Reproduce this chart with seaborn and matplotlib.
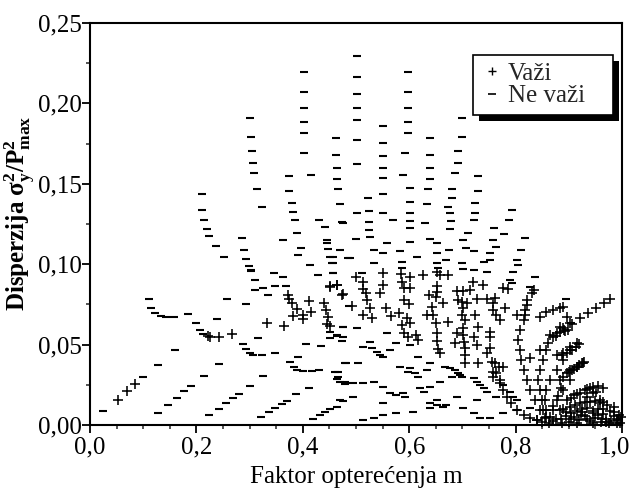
import matplotlib
matplotlib.use("Agg")
import matplotlib.pyplot as plt
import seaborn as sns
import pandas as pd
from matplotlib.ticker import MultipleLocator, FuncFormatter
from matplotlib.lines import Line2D
from matplotlib.patches import Rectangle
from matplotlib.transforms import IdentityTransform, ScaledTranslation

# ---------------- data ----------------
# "Ne važi" (dash markers) - upper columns
ne_upper = [
    (0.210, 0.1437),
    (0.301, 0.1911), (0.303, 0.1793), (0.304, 0.1704), (0.307, 0.1631), (0.308, 0.1569), (0.314, 0.1468), (0.324, 0.1358),
    (0.374, 0.1551), (0.374, 0.1455),
    (0.403, 0.2197), (0.403, 0.2069), (0.403, 0.1969), (0.403, 0.1886), (0.403, 0.1814), (0.403, 0.1694), (0.416, 0.1555),
    (0.462, 0.1783), (0.463, 0.1679), (0.464, 0.1600), (0.465, 0.1532), (0.467, 0.1468),
    (0.502, 0.2297), (0.502, 0.2162), (0.502, 0.2061), (0.502, 0.1973), (0.502, 0.1897), (0.502, 0.1770), (0.502, 0.1623),
    (0.523, 0.1410),
    (0.551, 0.1859), (0.551, 0.1756), (0.551, 0.1673), (0.551, 0.1600), (0.551, 0.1538), (0.551, 0.1439),
    (0.598, 0.2197), (0.598, 0.2069), (0.598, 0.1969), (0.598, 0.1886), (0.598, 0.1814), (0.592, 0.1694), (0.588, 0.1555), (0.601, 0.1476),
    (0.639, 0.1783), (0.639, 0.1679), (0.639, 0.1600), (0.639, 0.1532), (0.636, 0.1468),
    (0.699, 0.1911), (0.699, 0.1793), (0.691, 0.1704), (0.691, 0.1631), (0.687, 0.1569), (0.681, 0.1468), (0.681, 0.1410),
    (0.729, 0.1551), (0.729, 0.1455),
]

# "Ne važi" - left half
ne_left = [
    (0.210, 0.1337), (0.215, 0.1275), (0.219, 0.1219), (0.224, 0.1175), (0.236, 0.1111), (0.251, 0.1047),
    (0.285, 0.1165), (0.289, 0.1088), (0.293, 0.1032), (0.298, 0.0989), (0.302, 0.0964), (0.302, 0.0956),
    (0.311, 0.0902), (0.311, 0.0837), (0.326, 0.0852), (0.334, 0.0811), (0.345, 0.0947), (0.363, 0.1150),
    (0.363, 0.0920), (0.379, 0.1383), (0.381, 0.1323), (0.385, 0.1275), (0.390, 0.1192), (0.397, 0.1103),
    (0.391, 0.1055), (0.414, 0.0997), (0.429, 0.0935), (0.430, 0.1275), (0.442, 0.1229), (0.445, 0.1150),
    (0.445, 0.1130), (0.447, 0.1092), (0.452, 0.1047), (0.454, 0.1010), (0.457, 0.0943), (0.470, 0.1374),
    (0.474, 0.1260), (0.485, 0.1039), (0.487, 0.0740), (0.348, 0.0864), (0.368, 0.0864),
    (0.110, 0.0781), (0.115, 0.0730), (0.123, 0.0699), (0.133, 0.0678), (0.143, 0.0674), (0.157, 0.0674),
    (0.185, 0.0690), (0.199, 0.0636), (0.207, 0.0591), (0.213, 0.0566), (0.238, 0.0657), (0.257, 0.0781),
    (0.293, 0.0755), (0.288, 0.0504), (0.293, 0.0471), (0.300, 0.0446), (0.307, 0.0437), (0.323, 0.0435),
    (0.348, 0.0450), (0.316, 0.0539), (0.406, 0.0504), (0.435, 0.0491), (0.451, 0.0543), (0.464, 0.0556),
    (0.473, 0.0524), (0.476, 0.0607), (0.159, 0.0466), (0.127, 0.0375), (0.099, 0.0301), (0.242, 0.0379),
    (0.214, 0.0307), (0.301, 0.0245), (0.325, 0.0303), (0.376, 0.0390), (0.383, 0.0363), (0.390, 0.0342),
    (0.401, 0.0338), (0.417, 0.0338), (0.430, 0.0344), (0.391, 0.0425), (0.411, 0.0232), (0.467, 0.0330),
    (0.465, 0.0286), (0.470, 0.0265), (0.479, 0.0253), (0.481, 0.0388),
    (0.024, 0.0087), (0.128, 0.0077), (0.147, 0.0126), (0.163, 0.0168), (0.177, 0.0211), (0.190, 0.0245),
    (0.224, 0.0060), (0.242, 0.0102), (0.256, 0.0135), (0.269, 0.0168), (0.280, 0.0195),
    (0.322, 0.0050), (0.336, 0.0081), (0.348, 0.0106), (0.360, 0.0131), (0.371, 0.0151), (0.388, 0.0191),
    (0.419, 0.0037), (0.432, 0.0062), (0.442, 0.0083), (0.452, 0.0102), (0.464, 0.0114), (0.476, 0.0147),
]

# "Ne važi" - right half
ne_right = [
    (0.502, 0.1320), (0.525, 0.1331), (0.550, 0.1316), (0.602, 0.1389), (0.602, 0.1320), (0.633, 0.1374),
    (0.672, 0.1358), (0.677, 0.1320), (0.724, 0.1383), (0.724, 0.1320), (0.793, 0.1337),
    (0.475, 0.1258), (0.525, 0.1265), (0.570, 0.1275), (0.602, 0.1271), (0.630, 0.1258), (0.678, 0.1271),
    (0.721, 0.1275), (0.788, 0.1275), (0.525, 0.1213), (0.602, 0.1223), (0.677, 0.1217), (0.711, 0.1192),
    (0.759, 0.1227), (0.778, 0.1186), (0.500, 0.1155), (0.526, 0.1167), (0.558, 0.1134), (0.602, 0.1140),
    (0.639, 0.1155), (0.652, 0.1130), (0.702, 0.1150), (0.758, 0.1150), (0.818, 0.1161),
    (0.470, 0.1088), (0.533, 0.1088), (0.550, 0.1068), (0.583, 0.1082), (0.614, 0.1047), (0.653, 0.1068),
    (0.675, 0.1088), (0.707, 0.1103), (0.721, 0.1082), (0.763, 0.1109), (0.752, 0.1068), (0.811, 0.1088),
    (0.456, 0.1043), (0.457, 0.1005), (0.489, 0.1036), (0.533, 0.1005), (0.586, 0.1016), (0.652, 0.1010),
    (0.670, 0.1026), (0.699, 0.1005), (0.740, 0.1016), (0.752, 0.1026), (0.802, 0.1026), (0.805, 0.0995),
    (0.457, 0.0947), (0.511, 0.0947), (0.586, 0.0974), (0.655, 0.0974), (0.702, 0.0968), (0.721, 0.0964),
    (0.746, 0.0954), (0.796, 0.0954), (0.837, 0.0922), (0.790, 0.0902), (0.793, 0.0881), (0.827, 0.0860),
    (0.895, 0.0781), (0.905, 0.0636),
    (0.476, 0.0611), (0.501, 0.0601), (0.451, 0.0580), (0.464, 0.0560), (0.476, 0.0549), (0.526, 0.0518),
    (0.514, 0.0487), (0.530, 0.0477), (0.539, 0.0456), (0.545, 0.0435), (0.551, 0.0425), (0.558, 0.0570),
    (0.564, 0.0466), (0.576, 0.0508), (0.602, 0.0498), (0.479, 0.0388), (0.504, 0.0383), (0.617, 0.0425),
    (0.583, 0.0363), (0.602, 0.0352), (0.611, 0.0321), (0.617, 0.0301), (0.639, 0.0383), (0.633, 0.0342),
    (0.461, 0.0332), (0.467, 0.0301), (0.479, 0.0269), (0.495, 0.0259), (0.514, 0.0259),
    (0.533, 0.0269), (0.551, 0.0238), (0.564, 0.0197), (0.576, 0.0187), (0.592, 0.0176),
    (0.598, 0.0332), (0.620, 0.0228), (0.639, 0.0238), (0.658, 0.0269), (0.680, 0.0301), (0.696, 0.0311),
    (0.667, 0.0363), (0.677, 0.0352), (0.686, 0.0342), (0.692, 0.0321), (0.699, 0.0301), (0.721, 0.0290),
    (0.727, 0.0269), (0.733, 0.0249), (0.740, 0.0228), (0.746, 0.0207),
    (0.777, 0.0249), (0.790, 0.0207), (0.796, 0.0176), (0.802, 0.0155),
    (0.470, 0.0155), (0.495, 0.0176), (0.551, 0.0135), (0.589, 0.0197), (0.627, 0.0207), (0.652, 0.0155),
    (0.689, 0.0176), (0.727, 0.0155), (0.764, 0.0176), (0.639, 0.0135), (0.652, 0.0124), (0.664, 0.0114),
    (0.514, 0.0031), (0.533, 0.0041), (0.551, 0.0062), (0.576, 0.0073), (0.608, 0.0083), (0.639, 0.0104),
    (0.670, 0.0124), (0.702, 0.0104), (0.721, 0.0073), (0.733, 0.0041), (0.752, 0.0041), (0.777, 0.0073),
    (0.802, 0.0093), (0.827, 0.0104),
]

# "Važi" (plus markers) - left half
vazi_left = [
    (0.052, 0.0153), (0.070, 0.0209), (0.085, 0.0257),
    (0.221, 0.0553), (0.226, 0.0549), (0.242, 0.0549), (0.266, 0.0564),
    (0.332, 0.0632), (0.365, 0.0616), (0.373, 0.0808), (0.374, 0.0784), (0.380, 0.0757), (0.390, 0.0719),
    (0.381, 0.0680), (0.401, 0.0686), (0.401, 0.0661), (0.412, 0.0769), (0.415, 0.0703), (0.440, 0.0759),
    (0.444, 0.0715), (0.447, 0.0670), (0.445, 0.0628), (0.451, 0.0616), (0.451, 0.0856), (0.465, 0.0869),
    (0.473, 0.0808),
]

# "Važi" - middle fan
vazi_mid = [
    (0.451, 0.0864), (0.465, 0.0871), (0.475, 0.0813), (0.500, 0.0918), (0.514, 0.0891), (0.514, 0.0844),
    (0.519, 0.0819), (0.521, 0.0777), (0.526, 0.0726), (0.514, 0.0684), (0.531, 0.0663), (0.492, 0.0740),
    (0.550, 0.0943), (0.551, 0.0871), (0.545, 0.0823), (0.556, 0.0726), (0.565, 0.0678),
    (0.584, 0.0939), (0.586, 0.0891), (0.602, 0.0918), (0.590, 0.0850), (0.602, 0.0850), (0.590, 0.0777),
    (0.600, 0.0752), (0.581, 0.0694), (0.595, 0.0663), (0.586, 0.0622), (0.590, 0.0574), (0.602, 0.0632),
    (0.597, 0.0545), (0.613, 0.0560), (0.617, 0.0529),
    (0.625, 0.0933), (0.652, 0.0954), (0.653, 0.0864), (0.653, 0.0829), (0.651, 0.0798), (0.638, 0.0808),
    (0.642, 0.0736), (0.645, 0.0684), (0.650, 0.0636), (0.652, 0.0570), (0.653, 0.0524), (0.655, 0.0471),
    (0.658, 0.0450), (0.664, 0.0757), (0.672, 0.0643), (0.658, 0.0933), (0.673, 0.0933), (0.633, 0.0684),
    (0.689, 0.0835), (0.702, 0.0835), (0.715, 0.0840), (0.719, 0.0891), (0.738, 0.0871), (0.692, 0.0777),
    (0.699, 0.0767), (0.708, 0.0757), (0.702, 0.0726), (0.699, 0.0684), (0.705, 0.0653), (0.702, 0.0601),
    (0.702, 0.0560), (0.703, 0.0518), (0.704, 0.0477), (0.705, 0.0435), (0.705, 0.0388), (0.689, 0.0570),
    (0.686, 0.0512), (0.727, 0.0781), (0.724, 0.0684), (0.730, 0.0612), (0.721, 0.0549), (0.727, 0.0498),
    (0.746, 0.0781), (0.761, 0.0788), (0.777, 0.0850), (0.786, 0.0844), (0.780, 0.0726), (0.764, 0.0684),
    (0.771, 0.0653), (0.758, 0.0757), (0.757, 0.0715), (0.752, 0.0580), (0.752, 0.0549), (0.751, 0.0477),
    (0.746, 0.0446), (0.730, 0.0388), (0.755, 0.0394), (0.757, 0.0332), (0.758, 0.0301), (0.771, 0.0280),
    (0.768, 0.0363), (0.777, 0.0363),
]

# "Važi" - right fan converging to the bottom right
vazi_right = [
    (0.761, 0.0383), (0.764, 0.0321), (0.771, 0.0259), (0.777, 0.0218), (0.783, 0.0176), (0.792, 0.0135),
    (0.802, 0.0093), (0.815, 0.0062), (0.827, 0.0041), (0.840, 0.0031), (0.849, 0.0021),
    (0.834, 0.0840), (0.830, 0.0819), (0.821, 0.0777), (0.818, 0.0715), (0.815, 0.0653), (0.808, 0.0591),
    (0.805, 0.0529), (0.808, 0.0466), (0.811, 0.0404), (0.815, 0.0342), (0.821, 0.0280), (0.827, 0.0218),
    (0.837, 0.0155), (0.846, 0.0093),
    (0.896, 0.0674), (0.884, 0.0612), (0.871, 0.0549), (0.858, 0.0466), (0.852, 0.0404), (0.846, 0.0342),
    (0.843, 0.0280), (0.846, 0.0218), (0.849, 0.0155), (0.852, 0.0093), (0.858, 0.0052),
    (0.902, 0.0466), (0.890, 0.0404), (0.877, 0.0342), (0.865, 0.0280), (0.858, 0.0218), (0.855, 0.0155),
    (0.858, 0.0093),
    (0.902, 0.0280), (0.890, 0.0218), (0.877, 0.0155), (0.871, 0.0093), (0.865, 0.0052),
    (0.883, 0.0580), (0.893, 0.0586), (0.899, 0.0590),
    (0.887, 0.0435), (0.896, 0.0446), (0.906, 0.0466), (0.914, 0.0487), (0.920, 0.0504),
    (0.883, 0.0280), (0.896, 0.0321), (0.906, 0.0342), (0.915, 0.0363), (0.924, 0.0383), (0.928, 0.0394),
    (0.896, 0.0155), (0.909, 0.0187), (0.921, 0.0197), (0.930, 0.0218), (0.940, 0.0228), (0.946, 0.0238),
    (0.952, 0.0207),
    (0.883, 0.0093), (0.902, 0.0114), (0.921, 0.0135), (0.940, 0.0145), (0.959, 0.0155), (0.971, 0.0124),
    (0.846, 0.0674), (0.858, 0.0705), (0.871, 0.0715), (0.884, 0.0726), (0.890, 0.0736),
    (0.902, 0.0632), (0.890, 0.0601), (0.877, 0.0570), (0.865, 0.0560),
    (0.915, 0.0508), (0.902, 0.0487), (0.890, 0.0446), (0.877, 0.0435),
    (0.927, 0.0383), (0.915, 0.0363), (0.902, 0.0342),
    (0.946, 0.0197), (0.934, 0.0176), (0.959, 0.0135),
    (0.802, 0.0684), (0.818, 0.0684), (0.822, 0.0746),
    (0.827, 0.0417), (0.846, 0.0466), (0.861, 0.0510), (0.876, 0.0553), (0.891, 0.0591), (0.906, 0.0628),
    (0.921, 0.0665), (0.936, 0.0697), (0.951, 0.0728), (0.966, 0.0759), (0.977, 0.0784),
    (0.840, 0.0030), (0.855, 0.0045), (0.870, 0.0025), (0.885, 0.0040), (0.900, 0.0020), (0.910, 0.0050),
    (0.920, 0.0030), (0.930, 0.0055), (0.940, 0.0025), (0.950, 0.0045), (0.960, 0.0020), (0.970, 0.0040),
    (0.980, 0.0025), (0.990, 0.0035), (0.997, 0.0015), (0.925, 0.0080), (0.945, 0.0075), (0.965, 0.0070),
]

# "Važi" - dense strip along the bottom right
vazi_bottom = [
    (0.888, 0.0010), (0.895, 0.0055), (0.905, 0.0035), (0.915, 0.0012), (0.922, 0.0060), (0.935, 0.0040),
    (0.945, 0.0012), (0.955, 0.0062), (0.962, 0.0035), (0.975, 0.0010), (0.985, 0.0055), (0.993, 0.0030),
    (0.999, 0.0050), (0.978, 0.0090), (0.955, 0.0100), (0.935, 0.0105), (0.915, 0.0090), (0.895, 0.0080),
    (0.875, 0.0040), (0.862, 0.0015),
    (0.890, 0.0100), (0.912, 0.0125), (0.930, 0.0140), (0.950, 0.0150), (0.965, 0.0140), (0.985, 0.0110),
    (0.905, 0.0170), (0.915, 0.0190), (0.935, 0.0225), (0.955, 0.0245), (0.965, 0.0230),
    (0.890, 0.0300), (0.900, 0.0330), (0.910, 0.0350), (0.920, 0.0375),
    (0.870, 0.0120), (0.880, 0.0180), (0.885, 0.0230),
    (0.905, 0.0075), (0.925, 0.0100), (0.945, 0.0090), (0.965, 0.0100), (0.985, 0.0080), (0.995, 0.0065),
    (0.990, 0.0015), (0.970, 0.0020),
]

x_ticks_major = [0.0, 0.2, 0.4, 0.6, 0.8, 1.0]
y_ticks_major = [0.00, 0.05, 0.10, 0.15, 0.20, 0.25]
legend_labels = ["Važi", "Ne važi"]

# ---------------- figure ----------------
sns.set_theme(style="white")
plt.rcParams["font.family"] = ["Liberation Serif", "DejaVu Serif"]
plt.rcParams["mathtext.fontset"] = "custom"
plt.rcParams["mathtext.rm"] = "Liberation Serif"
plt.rcParams["mathtext.it"] = "Liberation Serif:italic"
plt.rcParams["mathtext.bf"] = "Liberation Serif:bold"

ne_pts = ne_upper + ne_left + ne_right
vazi_pts = vazi_left + vazi_mid + vazi_right + vazi_bottom
df_ne = pd.DataFrame(ne_pts, columns=["m", "d"])
df_va = pd.DataFrame(vazi_pts, columns=["m", "d"])

fig = plt.figure(figsize=(6.33, 4.91), dpi=100)
ax = fig.add_axes([90 / 633, 1 - 425 / 491, 532 / 633, 402 / 491])

sns.scatterplot(data=df_ne, x="m", y="d", marker="_", color="black", s=36, linewidth=1.5,
                legend=False, ax=ax, clip_on=False)
sns.scatterplot(data=df_va, x="m", y="d", marker="+", color="black", s=42, linewidth=1.15,
                legend=False, ax=ax, clip_on=False)

ax.set_xlim(0, 1.0)
ax.set_ylim(0, 0.25)
ax.set_xticks(x_ticks_major)
ax.set_yticks(y_ticks_major)
ax.xaxis.set_minor_locator(MultipleLocator(0.05))
ax.yaxis.set_minor_locator(MultipleLocator(0.025))
ax.xaxis.set_major_formatter(FuncFormatter(lambda v, p: f"{v:.1f}".replace(".", ",")))
ax.yaxis.set_major_formatter(FuncFormatter(lambda v, p: f"{v:.2f}".replace(".", ",")))

for s in ax.spines.values():
    s.set_linewidth(1.5)
    s.set_color("black")
ax.tick_params(axis="both", which="major", direction="out", length=5.5, width=1.3,
               labelsize=18, colors="black", bottom=True, left=True, top=False, right=False)
ax.tick_params(axis="y", which="major", pad=0.5)
ax.tick_params(axis="x", which="major", pad=2.5)
ax.tick_params(axis="both", which="minor", direction="out", length=3, width=1.1,
               bottom=True, left=True, top=False, right=False)

ax.set_xlabel("Faktor opterećenja m", fontsize=18, color="black", labelpad=6)
ax.set_ylabel(r"Disperzija $\mathbf{\sigma^2_y/P^2_{max}}$", fontsize=18, fontweight="bold",
              color="black")
ax.yaxis.set_label_coords(-0.100, 0.527)
ax.grid(False)

# the last x label sits a little left of its tick in the reference
last_tick = ax.xaxis.get_major_ticks()[-1]
last_tick.label1.set_transform(last_tick.label1.get_transform()
                               + ScaledTranslation(-0.07, 0, fig.dpi_scale_trans))

handles = [
    Line2D([], [], linestyle="none", marker="+", color="black", markersize=6, markeredgewidth=1.0),
    Line2D([], [], linestyle="none", marker="_", color="black", markersize=6, markeredgewidth=1.2),
]
leg = ax.legend(handles, legend_labels, loc="upper left",
                bbox_to_anchor=((473 - 90) / 532, (425 - 55) / 402, 140 / 532, 0.0),
                mode="expand", borderaxespad=0, frameon=True, fancybox=False, edgecolor="black",
                framealpha=1, fontsize=18, handlelength=0.9, handletextpad=0.2,
                borderpad=0.3, labelspacing=0.0)
leg.get_frame().set_linewidth(1.2)
leg.set_zorder(6)

fig.canvas.draw()
bb = leg.get_window_extent()
shadow = Rectangle((bb.x0 + 6, bb.y0 - 6), bb.width, bb.height, transform=IdentityTransform(),
                   facecolor="black", edgecolor="none", zorder=5.9, clip_on=False)
ax.add_artist(shadow)

fig.savefig("out.png", dpi=100, facecolor="white")
